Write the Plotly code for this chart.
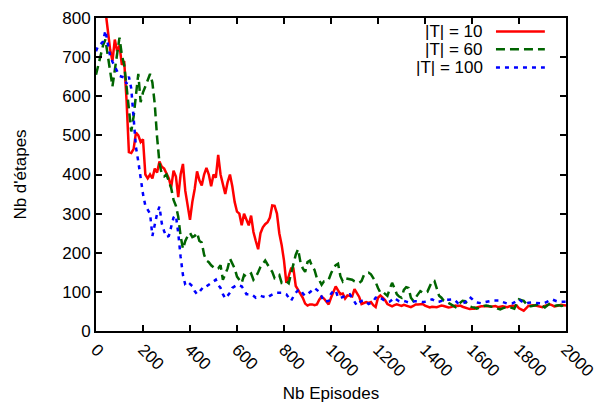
import plotly.graph_objects as go

# ---- data ----
ep_10 = list(range(0, 2001, 10))
val_10 = [950, 915, 880, 850, 820, 770, 720, 690, 745, 715,
          730, 680, 690, 590, 457, 455, 465, 507, 500, 483,
          490, 400, 390, 400, 390, 415, 405, 433, 420, 415,
          400, 390, 367, 410, 395, 342, 400, 427, 358, 320,
          284, 330, 363, 408, 385, 372, 400, 417, 400, 370,
          400, 392, 450, 400, 375, 350, 380, 400, 370, 330,
          305, 300, 270, 300, 285, 270, 295, 253, 230, 209,
          250, 265, 273, 278, 290, 321, 320, 300, 250, 220,
          180, 123, 140, 160, 160, 115, 105, 95, 85, 70,
          65, 68, 68, 66, 68, 80, 88, 83, 75, 68,
          85, 100, 114, 104, 94, 96, 83, 91, 90, 88,
          107, 95, 87, 69, 72, 74, 72, 74, 66, 61,
          85, 91, 85, 79, 69, 66, 63, 66, 68, 66,
          64, 67, 65, 63, 61, 64, 68, 68, 69, 69,
          65, 62, 60, 62, 61, 61, 63, 65, 64, 62,
          60, 61, 63, 65, 64, 65, 62, 60, 58, 56,
          57, 57, 60, 62, 63, 63, 64, 64, 62, 63,
          64, 61, 62, 63, 62, 61, 63, 64, 65, 65,
          58, 54, 52, 58, 64, 65, 66, 65, 63, 62,
          61, 64, 67, 68, 66, 63, 64, 66, 67, 66,
          65]

ep_60 = list(range(0, 2001, 10))
val_60 = [655, 680, 700, 730, 745, 710, 665, 625, 667, 700,
          750, 705, 680, 625, 570, 510, 548, 606, 657, 585,
          610, 625, 640, 657, 635, 580, 495, 430, 400, 395,
          400, 385, 365, 335, 320, 292, 243, 210, 230, 243,
          251, 240, 243, 251, 230, 226, 195, 180, 176, 168,
          164, 158, 160, 168, 131, 145, 160, 185, 170, 160,
          139, 130, 123, 143, 139, 143, 147, 131, 138, 150,
          164, 172, 180, 170, 160, 151, 135, 140, 143, 123,
          125, 127, 122, 147, 176, 195, 209, 176, 160, 151,
          176, 180, 165, 156, 135, 130, 118, 127, 128, 131,
          147, 160, 168, 172, 140, 127, 135, 134, 132, 131,
          127, 125, 123, 128, 143, 147, 149, 145, 135, 125,
          110, 98, 100, 96, 90, 108, 123, 110, 94, 88,
          85, 105, 112, 110, 85, 77, 85, 92, 102, 98,
          98, 100, 115, 127, 128, 106, 90, 85, 77, 75,
          72, 69, 65, 61, 68, 73, 77, 76, 70, 63,
          61, 60, 57, 60, 63, 64, 65, 64, 63, 62,
          60, 57, 55, 58, 60, 62, 61, 59, 57, 70,
          81, 79, 77, 70, 63, 63, 64, 66, 68, 69,
          64, 60, 65, 69, 67, 64, 65, 66, 64, 65,
          66]

ep_100 = list(range(0, 2001, 10))
val_100 = [715, 730, 733, 740, 768, 730, 703, 688, 676, 662,
           652, 650, 648, 632, 650, 620, 545, 470, 433, 390,
           350, 320, 310, 300, 243, 275, 300, 318, 275, 255,
           240, 243, 265, 290, 295, 250, 190, 143, 118, 114,
           120, 115, 102, 94, 100, 108, 115, 114, 118, 123,
           128, 131, 118, 110, 94, 83, 90, 98, 110, 115,
           118, 116, 114, 105, 94, 94, 94, 90, 85, 87,
           90, 88, 86, 85, 90, 94, 96, 98, 98, 98,
           96, 94, 85, 77, 88, 98, 104, 106, 96, 90,
           94, 98, 104, 110, 106, 100, 88, 75, 76, 77,
           95, 102, 104, 85, 84, 88, 90, 92, 94, 85,
           75, 65, 72, 77, 78, 74, 69, 72, 76, 85,
           89, 85, 80, 77, 74, 75, 80, 85, 80, 76,
           76, 77, 75, 73, 75, 76, 76, 76, 75, 74,
           75, 77, 80, 81, 78, 74, 75, 77, 80, 81,
           80, 80, 81, 77, 71, 69, 72, 73, 80, 87,
           82, 76, 73, 72, 71, 73, 75, 77, 77, 78,
           78, 79, 78, 74, 71, 70, 70, 70, 73, 78,
           81, 76, 72, 70, 72, 73, 73, 72, 71, 70,
           70, 72, 74, 78, 81, 78, 76, 75, 75, 76,
           75]

series_names = ["|T| = 10", "|T| = 60", "|T| = 100"]
series_colors = ["#ff0000", "#006400", "#0000ff"]
series_dash = ["solid", "9px,5px", "4px,5px"]
x_ticks = [0, 200, 400, 600, 800, 1000, 1200, 1400, 1600, 1800, 2000]
y_ticks = [0, 100, 200, 300, 400, 500, 600, 700, 800]

FONT = "Liberation Sans, Arial, sans-serif"
FS = 17

fig = go.Figure()
for xs, ys, nm, col, dsh in zip([ep_10, ep_60, ep_100], [val_10, val_60, val_100],
                                series_names, series_colors, series_dash):
    fig.add_trace(go.Scatter(x=xs, y=ys, mode="lines", name=nm,
                             line=dict(color=col, width=2.5, dash=dsh),
                             showlegend=False))

# manual gnuplot-style legend (text right-aligned, key sample on the right)
leg_y = [0.957, 0.900, 0.842]
for i, (nm, col, dsh) in enumerate(zip(series_names, series_colors, series_dash)):
    fig.add_annotation(x=0.828, y=leg_y[i], xref="paper", yref="paper",
                       text=nm, showarrow=False, xanchor="right", yanchor="middle",
                       font=dict(family=FONT, size=FS, color="black"))
    fig.add_shape(type="line", xref="paper", yref="paper",
                  x0=0.851, x1=0.955, y0=leg_y[i], y1=leg_y[i],
                  line=dict(color=col, width=2.5, dash=dsh))

axis_common = dict(showgrid=False, zeroline=False, showline=True, linecolor="black",
                   linewidth=2, mirror="allticks", ticks="inside", ticklen=6,
                   tickwidth=1.5, tickcolor="black",
                   tickfont=dict(family=FONT, size=FS, color="black"))

fig.update_xaxes(range=[0, 2000], tickvals=x_ticks, ticktext=[str(v) for v in x_ticks],
                 tickangle=45,
                 title=dict(text="Nb Episodes", font=dict(family=FONT, size=FS, color="black"),
                            standoff=8),
                 **axis_common)
fig.update_yaxes(range=[0, 800], tickvals=y_ticks, ticktext=[str(v) for v in y_ticks],
                 title=dict(text="Nb d'étapes", font=dict(family=FONT, size=FS, color="black"),
                            standoff=31),
                 **axis_common)

fig.update_layout(width=616, height=410, margin=dict(l=96, r=50, t=9, b=79),
                  plot_bgcolor="white", paper_bgcolor="white",
                  font=dict(family=FONT, color="black"))

fig.write_html("out.html")
